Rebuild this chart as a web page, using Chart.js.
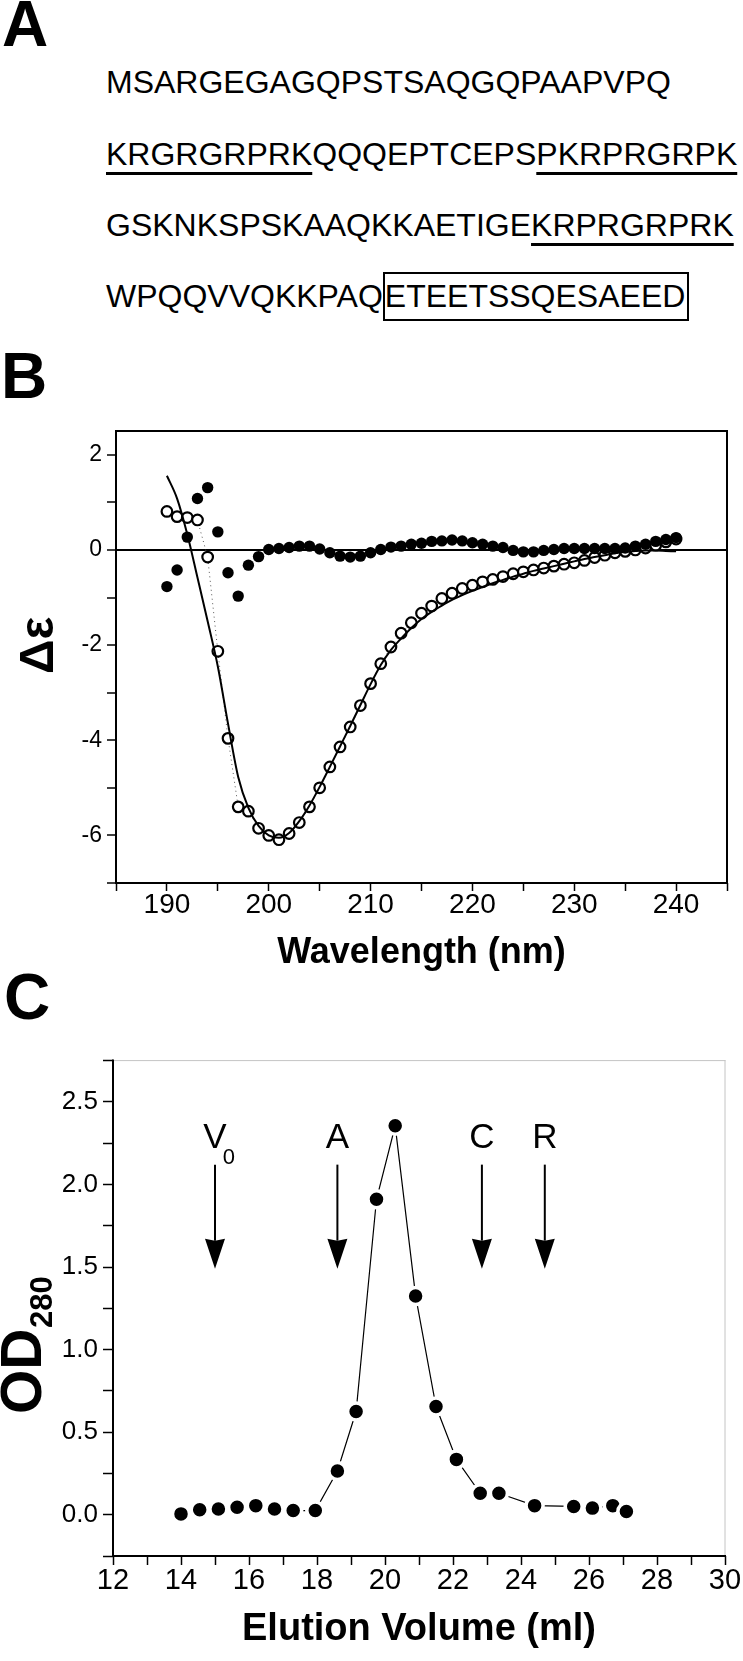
<!DOCTYPE html>
<html>
<head>
<meta charset="utf-8">
<title>Sequence, CD spectrum and gel filtration</title>
<script src="https://cdn.jsdelivr.net/npm/chart.js@4.4.1/dist/chart.umd.min.js"></script>
<style>
  html, body { margin: 0; padding: 0; background: #fff; }
  #page { position: relative; width: 743px; height: 1661px; overflow: hidden; color: #000;
          font-family: 'Liberation Sans', Arial, sans-serif; }
  .letter { position: absolute; font-weight: bold; font-size: 64px; line-height: 1; }
  .seq { position: absolute; left: 106px; font-size: 32px; line-height: 1; white-space: nowrap; }
  .ul { text-decoration: underline; text-decoration-thickness: 3px; text-underline-offset: 7px; }
  .box { border: 2px solid #000; padding: 4px 2px 5px 0; }
  .chart { position: absolute; left: 0; width: 743px; }
  .vtitle { position: absolute; width: 0; height: 0; transform-origin: 0 0; transform: rotate(-90deg);
            font-weight: bold; white-space: nowrap; }
  .vtitle span { position: absolute; line-height: 1; }
</style>
</head>
<body>
<div id="page">
  <div class="letter" style="left:2px; top:-8px;">A</div>
  <div class="seq" style="top:66px;">MSARGEGAGQPSTSAQGQPAAPVPQ</div>
  <div class="seq" style="top:138px;"><span class="ul">KRGRGRPRK</span>QQQEPTCEPS<span class="ul">PKRPRGRPK</span></div>
  <div class="seq" style="top:209px;">GSKNKSPSKAAQKKAETIGE<span class="ul">KRPRGRPRK</span></div>
  <div class="seq" style="top:280px;">WPQQVVQKKPAQ<span class="box">ETEETSSQESAEED</span></div>

  <div class="letter" style="left:1px; top:344px;">B</div>
  <div class="chart" style="top:400px; height:580px;"><canvas id="cdChart"></canvas></div>
  <div class="vtitle" style="left:13px; top:674px;"><span style="left:0; top:0; font-size:48px;">Δε</span></div>

  <div class="letter" style="left:4px; top:965px;">C</div>
  <div class="chart" style="top:1040px; height:621px;"><canvas id="gfChart"></canvas></div>
  <div class="vtitle" style="left:-7px; top:1414px;"><span style="left:0; top:0; font-size:57px;">OD</span><span style="left:86px; top:33px; font-size:31px;">280</span></div>
</div>

<script>
// Panel B: CD spectra, one point per nm
const wavelengths = [190, 191, 192, 193, 194, 195, 196, 197, 198, 199,
                     200, 201, 202, 203, 204, 205, 206, 207, 208, 209,
                     210, 211, 212, 213, 214, 215, 216, 217, 218, 219,
                     220, 221, 222, 223, 224, 225, 226, 227, 228, 229,
                     230, 231, 232, 233, 234, 235, 236, 237, 238, 239, 240];
const deltaEpsFilled = [-0.77, -0.42, 0.27, 1.08, 1.31, 0.38, -0.48, -0.97, -0.32, -0.14,
                        0.01, 0.03, 0.05, 0.08, 0.08, 0.02, -0.06, -0.13, -0.15, -0.13,
                        -0.06, 0.01, 0.06, 0.08, 0.12, 0.14, 0.18, 0.19, 0.21, 0.19,
                        0.15, 0.12, 0.08, 0.05, -0.01, -0.04, -0.04, -0.01, 0.01, 0.03,
                        0.03, 0.03, 0.03, 0.03, 0.03, 0.04, 0.08, 0.12, 0.18, 0.22, 0.26];
const deltaEpsOpen = [0.81, 0.70, 0.68, 0.63, -0.15, -2.13, -3.96, -5.40, -5.49, -5.85,
                      -6.00, -6.09, -5.96, -5.73, -5.40, -5.00, -4.56, -4.14, -3.72, -3.27,
                      -2.81, -2.39, -2.04, -1.75, -1.53, -1.33, -1.18, -1.02, -0.91, -0.81,
                      -0.74, -0.67, -0.62, -0.56, -0.50, -0.46, -0.42, -0.38, -0.34, -0.30,
                      -0.27, -0.22, -0.16, -0.11, -0.06, -0.03, 0.00, 0.04, 0.10, 0.17, 0.23];
const deltaEpsFit = [1.56, 1.08, 0.33, -0.58, -1.50, -2.45, -3.65, -4.77, -5.42, -5.80,
                     -6.00, -6.05, -5.95, -5.70, -5.37, -4.98, -4.56, -4.13, -3.70, -3.26,
                     -2.82, -2.42, -2.10, -1.86, -1.64, -1.45, -1.30, -1.17, -1.05, -0.95,
                     -0.86, -0.78, -0.70, -0.63, -0.56, -0.50, -0.44, -0.39, -0.34, -0.29,
                     -0.24, -0.19, -0.15, -0.11, -0.07, -0.04, -0.02, -0.01, -0.01, -0.02, -0.03];

// Panel C: gel filtration profile
const elutionVolume = [14.0, 14.55, 15.1, 15.65, 16.2, 16.75, 17.3, 17.95, 18.6, 19.15, 19.75,
                       20.3, 20.9, 21.5, 22.1, 22.8, 23.35, 24.4, 25.55, 26.1, 26.7, 27.1];
const od280 = [0.005, 0.03, 0.035, 0.045, 0.055, 0.035, 0.025, 0.025, 0.265, 0.625, 1.91,
               2.355, 1.325, 0.655, 0.335, 0.13, 0.13, 0.055, 0.05, 0.04, 0.055, 0.02];

// size markers (arrows)
const markerVolumes = [15.0, 18.6, 22.85, 24.7];
const markerLabels = ['V', 'A', 'C', 'R'];
const markerSubs = ['0', '', '', ''];
const arrowFrom = 2.12;
const arrowTo = 1.49;
const labelLevel = 2.22;

const fontStack = "'Liberation Sans', Arial, sans-serif";
Chart.defaults.font.family = fontStack;
Chart.defaults.color = '#000';
Chart.defaults.animation = false;

function pairs(xs, ys) {
    return xs.map((x, i) => ({ x: x, y: ys[i] }));
}

// box around the plot area, colour per side
const framePlugin = {
    id: 'frame',
    afterDraw(chart, args, opts) {
        const { ctx, chartArea: a } = chart;
        const side = (col, w, x1, y1, x2, y2) => {
            ctx.strokeStyle = col;
            ctx.lineWidth = w;
            ctx.beginPath();
            ctx.moveTo(x1, y1);
            ctx.lineTo(x2, y2);
            ctx.stroke();
        };
        ctx.save();
        ctx.lineCap = 'square';
        side(opts.topColor, opts.topWidth, a.left, a.top, a.right, a.top);
        side(opts.rightColor, opts.rightWidth, a.right, a.top, a.right, a.bottom);
        side(opts.axisColor, 2, a.left, a.bottom, a.right, a.bottom);
        side(opts.axisColor, 2, a.left, a.top, a.left, a.bottom);
        ctx.restore();
    }
};

// Panel B
new Chart(document.getElementById('cdChart'), {
    type: 'line',
    data: {
        datasets: [
            {
                label: 'filled',
                data: pairs(wavelengths, deltaEpsFilled),
                showLine: false,
                pointRadius: 5.7,
                pointBorderWidth: 0,
                pointBackgroundColor: '#000',
                order: 0
            },
            {
                label: 'fit',
                data: pairs(wavelengths, deltaEpsFit),
                borderColor: '#000',
                borderWidth: 2,
                pointRadius: 0,
                cubicInterpolationMode: 'monotone',
                order: 1
            },
            {
                label: 'open',
                data: pairs(wavelengths, deltaEpsOpen),
                borderColor: '#555',
                borderWidth: 1,
                borderDash: [1, 3.5],
                pointRadius: 5.3,
                pointBorderWidth: 2.2,
                pointBorderColor: '#000',
                pointBackgroundColor: '#fff',
                order: 2
            }
        ]
    },
    options: {
        responsive: true,
        maintainAspectRatio: false,
        layout: { padding: { top: 31, right: 16, bottom: 0, left: 0 } },
        plugins: {
            legend: { display: false },
            tooltip: { enabled: false },
            frame: { topColor: '#000', topWidth: 2, rightColor: '#000', rightWidth: 2, axisColor: '#000' }
        },
        scales: {
            x: {
                type: 'linear', min: 185, max: 245,
                afterFit: s => { s.height = 97; },
                border: { display: false },
                grid: { color: 'rgba(0,0,0,0)', tickColor: '#000', tickLength: 8, tickWidth: 1.5 },
                ticks: {
                    stepSize: 5, padding: 0, autoSkip: false, maxRotation: 0, minRotation: 0,
                    font: { size: 28, lineHeight: 1 },
                    callback: v => (v % 10 === 0 && v >= 190 && v <= 240) ? String(v) : ''
                },
                title: { display: true, text: 'Wavelength (nm)', font: { size: 36, weight: 'bold', lineHeight: 1 },
                         padding: { top: 0, bottom: 9 } }
            },
            y: {
                type: 'linear', min: -7, max: 2.5,
                afterFit: s => { s.width = 116; },
                border: { display: false },
                grid: {
                    color: c => (c.tick && c.tick.value === 0) ? '#000' : 'rgba(0,0,0,0)',
                    lineWidth: 2, tickColor: '#000', tickLength: 9, tickWidth: 1.5
                },
                ticks: {
                    stepSize: 1, includeBounds: false, padding: 5, autoSkip: false,
                    font: { size: 23 },
                    callback: v => (v % 2 === 0 && v >= -6) ? String(v) : ''
                }
            }
        }
    },
    plugins: [framePlugin]
});

// arrows marking the calibration standards
const arrowPlugin = {
    id: 'markers',
    afterDatasetsDraw(chart) {
        const { ctx, scales: { x, y } } = chart;
        const y0 = y.getPixelForValue(arrowFrom);
        const y1 = y.getPixelForValue(arrowTo);
        const yl = y.getPixelForValue(labelLevel);
        ctx.save();
        ctx.fillStyle = '#000';
        ctx.strokeStyle = '#000';
        ctx.lineWidth = 2;
        markerVolumes.forEach((v, i) => {
            const px = x.getPixelForValue(v);
            ctx.beginPath();
            ctx.moveTo(px, y0);
            ctx.lineTo(px, y1 - 28);
            ctx.stroke();
            ctx.beginPath();
            ctx.moveTo(px - 10, y1 - 30);
            ctx.lineTo(px, y1 - 28);
            ctx.lineTo(px + 10, y1 - 30);
            ctx.lineTo(px, y1);
            ctx.closePath();
            ctx.fill();
            ctx.font = '35px ' + fontStack;
            ctx.textAlign = 'center';
            ctx.textBaseline = 'alphabetic';
            ctx.fillText(markerLabels[i], px, yl);
            if (markerSubs[i]) {
                const w = ctx.measureText(markerLabels[i]).width;
                ctx.font = '22px ' + fontStack;
                ctx.textAlign = 'left';
                ctx.fillText(markerSubs[i], px + w / 2 - 4, yl + 16);
            }
        });
        ctx.restore();
    }
};

// Panel C
new Chart(document.getElementById('gfChart'), {
    type: 'line',
    data: {
        datasets: [{
            label: 'OD280',
            data: pairs(elutionVolume, od280),
            borderColor: '#000',
            borderWidth: 1.2,
            tension: 0,
            pointRadius: 8.5,
            pointBorderWidth: 3.5,
            pointBorderColor: '#fff',
            pointBackgroundColor: '#000'
        }]
    },
    options: {
        responsive: true,
        maintainAspectRatio: false,
        layout: { padding: { top: 19, right: 18, bottom: 0, left: 0 } },
        plugins: {
            legend: { display: false },
            tooltip: { enabled: false },
            frame: { topColor: '#c4c4c4', topWidth: 1, rightColor: '#c4c4c4', rightWidth: 1, axisColor: '#000' }
        },
        scales: {
            x: {
                type: 'linear', min: 12, max: 30,
                afterFit: s => { s.height = 105; },
                border: { display: false },
                grid: { color: 'rgba(0,0,0,0)', tickColor: '#000', tickLength: 9, tickWidth: 1.5 },
                ticks: {
                    stepSize: 1, padding: 1, autoSkip: false, maxRotation: 0, minRotation: 0,
                    font: { size: 29, lineHeight: 1 },
                    callback: v => v % 2 === 0 ? String(v) : ''
                },
                title: { display: true, text: 'Elution Volume (ml)', font: { size: 38, weight: 'bold', lineHeight: 1 },
                         padding: { top: 0, bottom: 12 } }
            },
            y: {
                type: 'linear', min: -0.25, max: 2.75,
                afterFit: s => { s.width = 113; },
                border: { display: false },
                grid: { color: 'rgba(0,0,0,0)', tickColor: '#000', tickLength: 10, tickWidth: 1.5 },
                ticks: {
                    stepSize: 0.25, padding: 5, autoSkip: false,
                    font: { size: 26 },
                    callback: v => {
                        const h = Math.round(v * 100);
                        return (h % 50 === 0 && h >= 0) ? (h / 100).toFixed(1) : '';
                    }
                }
            }
        }
    },
    plugins: [framePlugin, arrowPlugin]
});
</script>
</body>
</html>
